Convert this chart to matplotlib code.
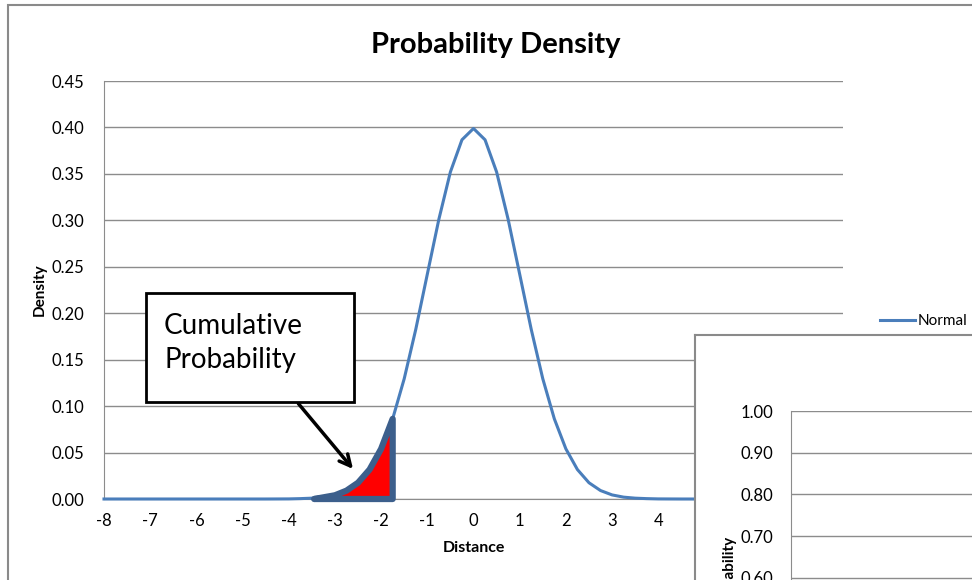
import matplotlib.pyplot as plt
from matplotlib.patches import Rectangle
from matplotlib.ticker import FormatStrFormatter

plt.rcParams['font.family'] = ['Lato', 'DejaVu Sans']
plt.rcParams['axes.unicode_minus'] = False

# %% data
distance = [-8, -7, -6, -5, -4.5, -4, -3.75, -3.5, -3.25, -3, -2.75, -2.5, -2.25, -2, -1.75,
            -1.5, -1.25, -1, -0.75, -0.5, -0.25, 0, 0.25, 0.5, 0.75, 1, 1.25, 1.5, 1.75,
            2, 2.25, 2.5, 2.75, 3, 3.25, 3.5, 3.75, 4, 4.5, 5, 6, 7, 8]
density = [0, 0, 0, 0, 0, 0.0001, 0.0004, 0.0009, 0.002, 0.0044, 0.0091, 0.0175, 0.0317,
           0.054, 0.0863, 0.1295, 0.1826, 0.242, 0.3011, 0.3521, 0.3867, 0.3989, 0.3867,
           0.3521, 0.3011, 0.242, 0.1826, 0.1295, 0.0863, 0.054, 0.0317, 0.0175, 0.0091,
           0.0044, 0.002, 0.0009, 0.0004, 0.0001, 0, 0, 0, 0, 0]
# highlighted tail (hand-drawn shape in the original)
tail_x = [-3.45, -3.0, -2.75, -2.5, -2.25, -2.0, -1.75, -1.75]
tail_y = [0.0, 0.004, 0.009, 0.0175, 0.0317, 0.054, 0.0863, 0.0]
x_ticks = list(range(-8, 9))
y_ticks = [0.00, 0.05, 0.10, 0.15, 0.20, 0.25, 0.30, 0.35, 0.40, 0.45]
inset_ticks = [0.0, 0.1, 0.2, 0.3, 0.4, 0.5, 0.6, 0.7, 0.8, 0.9, 1.0]

W, H = 972, 580
GRID = '#8c8c8c'
BLUE = '#4a7ebb'
DARK = '#3c5f8c'


def fx(px):
    return px / W


def fy(py):
    return 1 - py / H


fig = plt.figure(figsize=(W / 100, H / 100), dpi=100)

# outer chart border
fig.patches.append(Rectangle((fx(8), fy(H + 20)), 2, fy(5) - fy(H + 20), transform=fig.transFigure,
                             fill=False, edgecolor='#8a8a8a', lw=1.5, zorder=0))

# %% main plot
ax = fig.add_axes([fx(104), fy(499), fx(843) - fx(104), fy(81) - fy(499)])
ax.plot(distance, density, color=BLUE, lw=2.2, label='Normal', zorder=3, clip_on=False)
ax.fill(tail_x, tail_y, facecolor='red', edgecolor=DARK, lw=4.5, joinstyle='round', zorder=4,
        clip_on=False)
ax.set_xlim(-8, 8)
ax.set_ylim(0, 0.45)
ax.set_xticks(x_ticks)
ax.set_yticks(y_ticks)
ax.yaxis.set_major_formatter(FormatStrFormatter('%.2f'))
ax.grid(axis='y', color=GRID, lw=1)
ax.set_axisbelow(True)
for s in ['top', 'right']:
    ax.spines[s].set_visible(False)
ax.spines['left'].set_color(GRID)
ax.spines['bottom'].set_color(GRID)
ax.tick_params(length=0, labelsize=12, pad=10)
ax.tick_params(axis='y', pad=14)
ax.set_xlabel('Distance', fontsize=11.5, fontweight='bold', labelpad=9)
ax.set_ylabel('Density', fontsize=11, fontweight='bold', labelpad=4)
ax.set_title('Probability Density', fontsize=21, fontweight='bold', pad=20, x=0.53)

# legend
fig.legend(loc='center left', bbox_to_anchor=(fx(866), fy(321)), frameon=False, fontsize=11,
           handlelength=2.3, handletextpad=0.15)

# callout
fig.patches.append(Rectangle((fx(146), fy(402)), fx(354) - fx(146), fy(293) - fy(402),
                             transform=fig.transFigure, facecolor='white', edgecolor='black',
                             lw=2, zorder=5))
fig.text(fx(164), fy(343), 'Cumulative\nProbability', fontsize=20, ha='left', va='center',
         linespacing=1.4, zorder=6)
ax.annotate('', xy=(-2.57, 0.030), xytext=(-3.83, 0.105),
            arrowprops=dict(arrowstyle='->,head_length=0.8,head_width=0.4', color='black',
                            lw=2.5), zorder=6, annotation_clip=False)

# %% second chart, partly visible at bottom right
box = fig.add_axes([fx(695), fy(H + 40), 0.4, fy(335) - fy(H + 40)], zorder=7)
box.set_xticks([])
box.set_yticks([])
for s in box.spines.values():
    s.set_color('#8a8a8a')
    s.set_linewidth(1.5)

inset = fig.add_axes([fx(791), fy(828), 0.25, fy(411) - fy(828)], zorder=8)
inset.set_xlim(0, 1)
inset.set_ylim(0, 1.0)
inset.set_yticks(inset_ticks)
inset.yaxis.set_major_formatter(FormatStrFormatter('%.2f'))
inset.set_xticks([])
inset.grid(axis='y', color=GRID, lw=1)
inset.patch.set_alpha(0)
for s in ['top', 'right', 'bottom']:
    inset.spines[s].set_visible(False)
inset.spines['left'].set_color(GRID)
inset.tick_params(length=0, labelsize=12, pad=13)
fig.text(fx(730), fy(537), 'Cumulative Probability', rotation=90, ha='center', va='top',
         fontsize=11, fontweight='bold', zorder=9)

fig.savefig('out.png', dpi=100)
